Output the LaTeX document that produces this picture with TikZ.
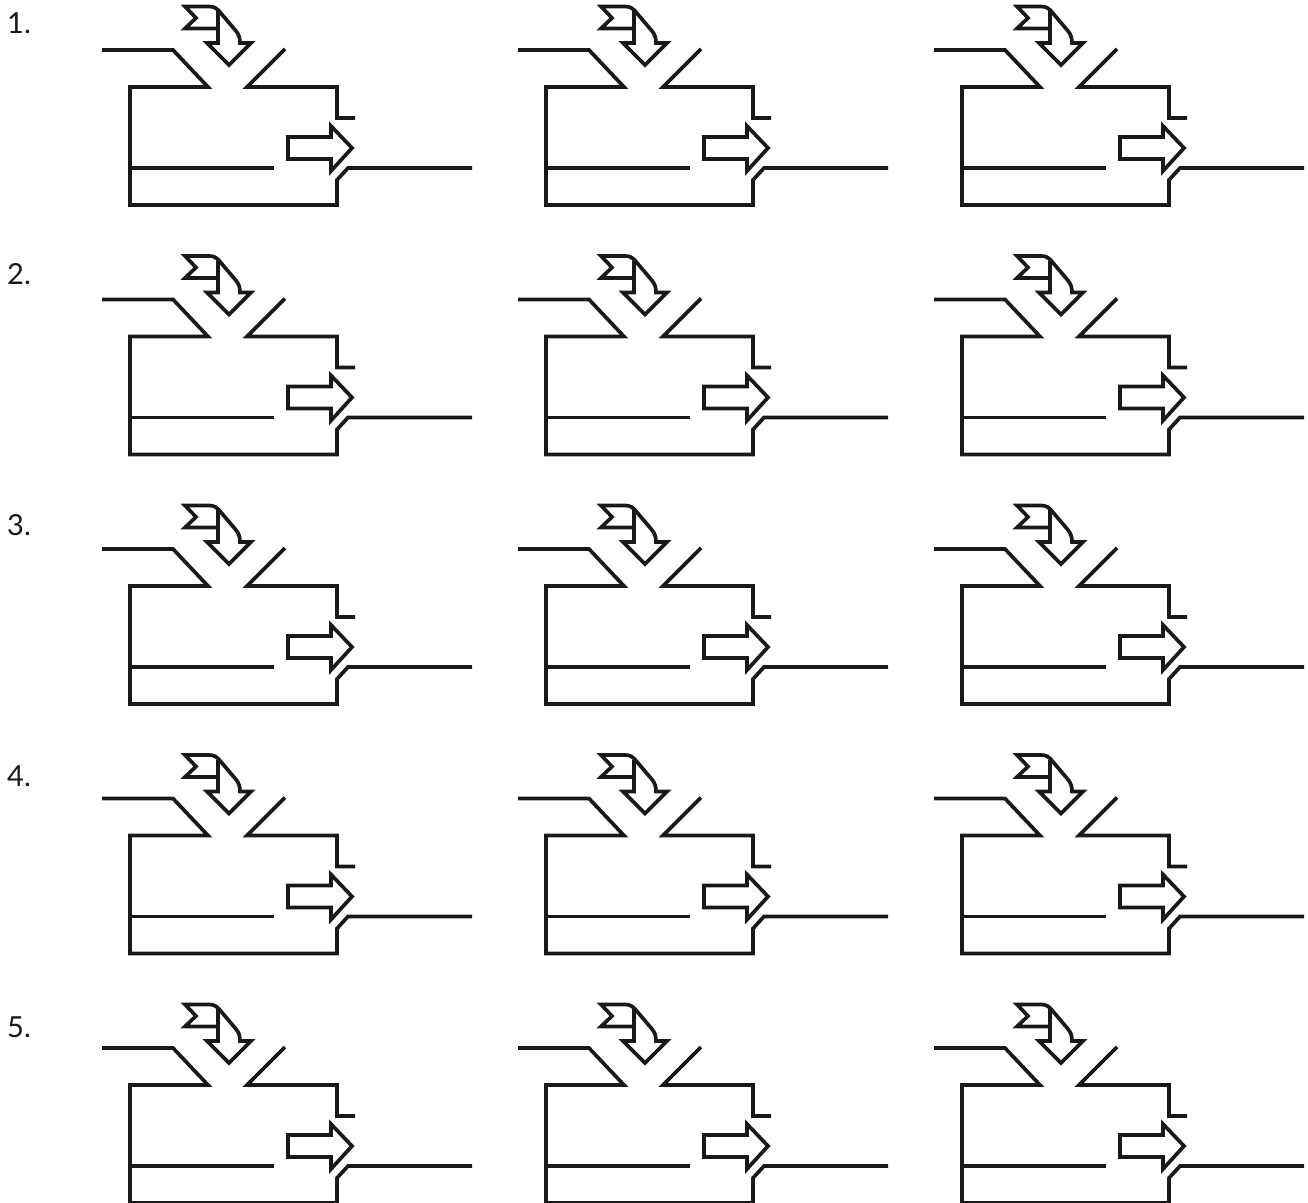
\documentclass[tikz,border=0pt]{standalone}
\usepackage{fontspec}
\setmainfont{Lato}
\tikzset{
  ink/.style={draw=black!90,line width=3.7pt,miter limit=10},
  numlabel/.style={anchor=base west,inner sep=0pt,font=\fontsize{29}{29}\selectfont,text=black!90},
  unitcell/.pic={
    % duct outline
    \draw[ink] (102,50) -- (173,50) -- (208,87) -- (130,87) -- (130,205) -- (337,205) -- (337,180) -- (348,168) -- (472,168);
    \draw[ink] (285,49) -- (247,87) -- (337,87) -- (337,118) -- (355,118);
    \draw[ink] (130,168) -- (274,168);
    % straight arrow
    \draw[ink] (288,137) -- (331,137) -- (331,126) -- (352,148) -- (331,171) -- (331,159) -- (288,159) -- cycle;
    % bent arrow
    \draw[ink] (185,6.5) -- (209,6.5) .. controls (214,6.5) and (216,8) .. (219,11) -- (236,31) .. controls (239,35) and (240,38) .. (240,43) -- (251,43) -- (229,65) -- (207,43) -- (218,43) -- (218,28.5) -- (185,28.5) -- (196,18) -- cycle;
    \draw[ink] (218,11) -- (218,28.5);
  }
}
\begin{document}
\begin{tikzpicture}[x=1pt,y=-1pt]
\path[use as bounding box] (0,0) rectangle (1308,1202);
\clip (0,0) rectangle (1308,1202);
\foreach \r in {0,1,2,3,4}{
  \foreach \c in {0,1,2}{
    \pic at ({\c*416},{\r*249.5}) {unitcell};
  }
}
\foreach \r/\t in {0/1.,1/2.,2/3.,3/4.,4/5.}{
  \node[numlabel] (lab\r) at (7,{33+\r*251}) {\t};
}
\end{tikzpicture}
\end{document}
